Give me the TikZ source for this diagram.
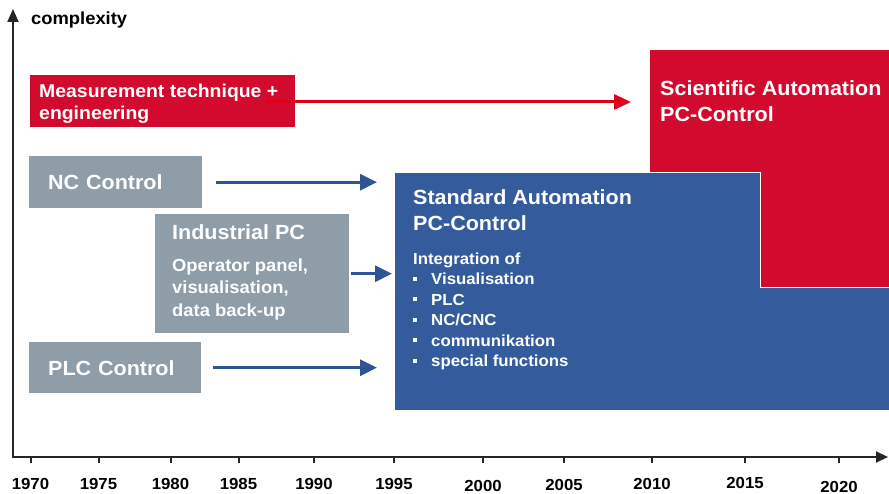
\documentclass[tikz,border=0pt]{standalone}
\usepackage{fontspec}
\setmainfont{Liberation Sans}[FakeStretch=1.05]
\usetikzlibrary{arrows.meta}
\usetikzlibrary{positioning}
\definecolor{boxred}{RGB}{210,10,46}
\definecolor{boxblue}{RGB}{52,92,156}
\definecolor{boxgray}{RGB}{142,157,167}
\definecolor{arrowblue}{RGB}{46,84,150}
\definecolor{arrowred}{RGB}{222,0,22}
\newcommand{\sqitem}{\makebox[18pt][l]{\rule[4pt]{4pt}{4pt}}}

\begin{document}
\begin{tikzpicture}[x=1pt,y=-1pt,
  graybox/.style={fill=boxgray,text=white,anchor=north west,align=left,inner ysep=0pt,font=\bfseries\fontsize{20.5}{26}\selectfont},
  bigtitle/.style={text=white,anchor=north west,align=left,inner sep=0pt,font=\bfseries\fontsize{20.5}{26}\selectfont},
  bodytext/.style={text=white,anchor=north west,align=left,inner sep=0pt,font=\bfseries\fontsize{17.5}{22.5}\selectfont},
  flowarrow/.style={draw=arrowblue,line width=3pt,-{Triangle[length=17pt,width=16pt]}},
  redarrow/.style={draw=arrowred,line width=3pt,-{Triangle[length=17pt,width=15pt]}},
  tick/.style={black!85,line width=2pt},
  yearlabel/.style={anchor=base,inner sep=0pt,font=\bfseries\fontsize{16}{19}\selectfont}]
\useasboundingbox (0,0) rectangle (889,494);

\node[fill=boxred,anchor=north west,inner sep=0pt,minimum width=239pt,minimum height=238pt] (sci) at (650,50) {};
\node[bigtitle] (scititle) at (660,80.2) {Scientific Automation\\PC-Control};
\node[fill=boxblue,draw=white,line width=1pt,anchor=north west,inner sep=0pt,minimum width=495pt,minimum height=238pt] (std) at (394,172) {};
\fill[boxred] (760,172) rectangle (889,287.5);
\draw[white,line width=1pt] (760,172) -- (760,287.5) -- (889,287.5);
\node[bigtitle] (stdtitle) at (413,189.2) {Standard Automation\\PC-Control};
\node[text=white,anchor=north west,align=left,inner sep=0pt,font=\bfseries\fontsize{16}{20.5}\selectfont] (stdlist) at (413,252.5) {Integration of\\\sqitem Visualisation\\\sqitem PLC\\\sqitem NC/CNC\\\sqitem communikation\\\sqitem special functions};

\node[fill=boxred,anchor=north west,inner sep=0pt,minimum width=265pt,minimum height=52pt] (meas) at (30,75) {};
\node[bodytext,font=\bfseries\fontsize{18.5}{22}\selectfont] (meastext) at (39,83.6) {Measurement technique +\\engineering};
\node[graybox,inner xsep=19pt,text width=135pt,minimum height=52pt] (nc) at (29,156) {NC Control};
\node[graybox,inner sep=0pt,minimum width=194pt,minimum height=119pt] (ipc) at (155,214) {};
\node[bigtitle,anchor=base west] (ipctitle) at (172,240) {Industrial PC};
\node[bodytext] (ipcbody) at (172,258.6) {Operator panel,\\visualisation,\\data back-up};
\node[graybox,inner xsep=19pt,text width=134pt,minimum height=51pt] (plc) at (29,342) {PLC Control};

\coordinate (measarrow) at (266,102);
\draw[redarrow,shorten >=19pt] (measarrow) -- (measarrow -| sci.west);
\draw[flowarrow,shorten <=14pt,shorten >=17pt] (nc.east) -- (nc.east -| std.west);
\draw[flowarrow,shorten <=2pt,shorten >=2pt] (ipc.east) -- (ipc.east -| std.west);
\draw[flowarrow,shorten <=12pt,shorten >=17pt] (plc.east) -- (plc.east -| std.west);

\coordinate (orig) at (13,457);
\coordinate (ytop) at (13,9);
\coordinate (xend) at (888,457);
\draw[black!85,line width=2pt,line join=miter,{Triangle[length=13pt,width=11pt]}-{Triangle[length=12pt,width=11pt]}] (ytop) -- (orig) -- (xend);
\node[anchor=base west,inner sep=0pt,font=\bfseries\fontsize{17.5}{21}\selectfont] (ylabel) at (31,24.5) {complexity};

\draw[tick] (30.5,457) -- (30.5,463);
\node[yearlabel] (y1970) at (30.5,489.5) {1970};
\draw[tick] (98.5,457) -- (98.5,463);
\node[yearlabel] (y1975) at (98.5,489.5) {1975};
\draw[tick] (170.5,457) -- (170.5,463);
\node[yearlabel] (y1980) at (170.5,489.5) {1980};
\draw[tick] (238.5,457) -- (238.5,463);
\node[yearlabel] (y1985) at (238.5,489.5) {1985};
\draw[tick] (314,457) -- (314,463);
\node[yearlabel] (y1990) at (314,489.5) {1990};
\draw[tick] (394,457) -- (394,463);
\node[yearlabel] (y1995) at (394,489.5) {1995};
\draw[tick] (483,457) -- (483,463);
\node[yearlabel] (y2000) at (483,491) {2000};
\draw[tick] (564,457) -- (564,463);
\node[yearlabel] (y2005) at (564,490.5) {2005};
\draw[tick] (652,457) -- (652,463);
\node[yearlabel] (y2010) at (652,489.5) {2010};
\draw[tick] (745,457) -- (745,463);
\node[yearlabel] (y2015) at (745,488) {2015};
\draw[tick] (839,457) -- (839,463);
\node[yearlabel] (y2020) at (839,492) {2020};

\end{tikzpicture}
\end{document}
